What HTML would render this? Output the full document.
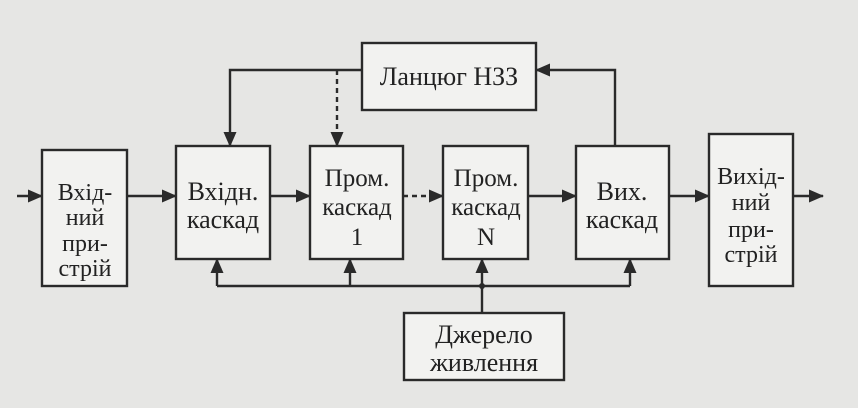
<!DOCTYPE html>
<html><head><meta charset="utf-8"><style>
html,body{margin:0;padding:0;background:#e6e6e4;}
svg{display:block;}
text{font-family:"Liberation Serif","DejaVu Serif",serif;fill:#222;}
</style></head><body>
<svg width="858" height="408" viewBox="0 0 858 408" xmlns="http://www.w3.org/2000/svg">
<defs>
<marker id="a" markerWidth="15" markerHeight="13" refX="14" refY="6.5" orient="auto" markerUnits="userSpaceOnUse">
<path d="M0,0 L15,6.5 L0,13 Z" fill="#2a2a2a"/></marker>
</defs>
<rect width="858" height="408" fill="#e6e6e4"/>
<g fill="#f2f2f0" stroke="#2a2a2a" stroke-width="2.4">
<rect x="42" y="150" width="85" height="136"/>
<rect x="176" y="146" width="94" height="113"/>
<rect x="310" y="146" width="93" height="113"/>
<rect x="443" y="146" width="85" height="113"/>
<rect x="576" y="146" width="93" height="113"/>
<rect x="709" y="134" width="84" height="152"/>
<rect x="362" y="43" width="174" height="67"/>
<rect x="404" y="313" width="160" height="67"/>
</g>
<g stroke="#2a2a2a" stroke-width="2.4" fill="none">
<line x1="17" y1="196" x2="42" y2="196" marker-end="url(#a)"/>
<line x1="127" y1="196" x2="176" y2="196" marker-end="url(#a)"/>
<line x1="270" y1="196" x2="310" y2="196" marker-end="url(#a)"/>
<line x1="403" y1="196" x2="443" y2="196" stroke-dasharray="5,4" marker-end="url(#a)"/>
<line x1="528" y1="196" x2="576" y2="196" marker-end="url(#a)"/>
<line x1="669" y1="196" x2="709" y2="196" marker-end="url(#a)"/>
<line x1="793" y1="196" x2="823" y2="196" marker-end="url(#a)"/>
<polyline points="615,146 615,70 536,70" marker-end="url(#a)"/>
<polyline points="362,70 230,70 230,146" marker-end="url(#a)"/>
<line x1="337" y1="70" x2="337" y2="146" stroke-dasharray="5,4" marker-end="url(#a)"/>
<line x1="217" y1="286" x2="630" y2="286"/>
<line x1="217" y1="286" x2="217" y2="259" marker-end="url(#a)"/>
<line x1="350" y1="286" x2="350" y2="259" marker-end="url(#a)"/>
<line x1="482" y1="313" x2="482" y2="259" marker-end="url(#a)"/>
<line x1="630" y1="286" x2="630" y2="259" marker-end="url(#a)"/>
</g>
<circle cx="482" cy="286" r="3" fill="#2a2a2a"/>
<g font-size="24" text-anchor="middle">
<text x="85" y="200">Вхід-</text>
<text x="85" y="225">ний</text>
<text x="85" y="251">при-</text>
<text x="85" y="276">стрій</text>
<text x="223" y="200" font-size="26">Вхідн.</text>
<text x="223" y="228" font-size="26">каскад</text>
<text x="357" y="186" font-size="25">Пром.</text>
<text x="357" y="215" font-size="25">каскад</text>
<text x="357" y="245" font-size="25">1</text>
<text x="486" y="186" font-size="25">Пром.</text>
<text x="486" y="215" font-size="25">каскад</text>
<text x="486" y="245" font-size="25">N</text>
<text x="622" y="200" font-size="26">Вих.</text>
<text x="622" y="228" font-size="26">каскад</text>
<text x="751" y="184">Вихід-</text>
<text x="751" y="210">ний</text>
<text x="751" y="237">при-</text>
<text x="751" y="262">стрій</text>
<text x="449" y="85" font-size="26">Ланцюг НЗЗ</text>
<text x="484" y="343" font-size="26">Джерело</text>
<text x="484" y="371" font-size="26">живлення</text>
</g>
</svg>
</body></html>
